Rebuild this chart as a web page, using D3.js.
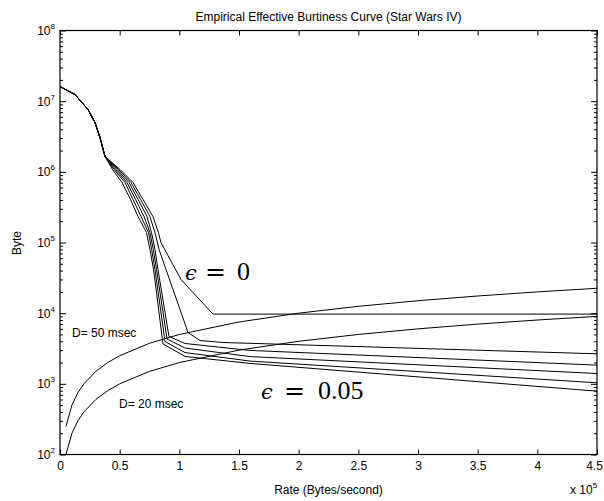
<!DOCTYPE html>
<html>
<head>
<meta charset="utf-8">
<script src="https://cdn.jsdelivr.net/npm/d3@7"></script>
<style>
  html, body { margin: 0; padding: 0; background: #fff; }
  svg { display: block; }
</style>
</head>
<body>
<svg id="chart" width="604" height="501"></svg>
<script>
// ---------------- data (rate in Bytes/second, buffer in Bytes) ----------------
const headRate = [0, 12600, 23500, 29300, 33500, 37700];
const headByte = [1.61e7, 1.24e7, 7.6e6, 5.0e6, 3.06e6, 1.65e6];

// epsilon = 0
const eps0Rate = [50300, 61200, 69600, 77900, 82500, 84600, 101400, 110600, 128200, 450000];
const eps0Byte = [1.08e6, 7.06e5, 4.06e5, 2.33e5, 1.38e5, 1.0e5, 2.99e4, 2.03e4, 9700, 9700];
// intermediate epsilon curves
const eps1Rate = [49000, 59500, 67500, 75400, 79600, 83000, 107300, 117300, 136600, 450000];
const eps1Byte = [1.08e6, 7.06e5, 4.06e5, 2.33e5, 1.38e5, 7.96e4, 5320, 4100, 3846, 2660];
const eps2Rate = [47800, 57800, 65400, 72900, 76700, 79600, 82100, 91300, 104800, 159200, 450000];
const eps2Byte = [1.08e6, 7.06e5, 4.06e5, 2.33e5, 1.38e5, 7.96e4, 4.15e4, 4680, 3720, 2970, 1840];
const eps3Rate = [46500, 56100, 63300, 70400, 75400, 78200, 80900, 89700, 104800, 159200, 450000];
const eps3Byte = [1.08e6, 7.06e5, 4.06e5, 2.33e5, 1.38e5, 7.96e4, 4.15e4, 4310, 3210, 2430, 1400];
const eps4Rate = [45300, 54500, 61200, 67900, 74200, 76800, 79600, 88000, 104800, 159200, 450000];
const eps4Byte = [1.08e6, 7.06e5, 4.06e5, 2.33e5, 1.38e5, 7.96e4, 4.15e4, 3970, 2770, 2100, 1035];
// epsilon = 0.05
const eps5Rate = [44000, 52000, 59100, 65400, 72500, 75400, 78400, 86300, 104800, 159200, 450000];
const eps5Byte = [1.08e6, 7.06e5, 4.06e5, 2.33e5, 1.38e5, 7.96e4, 4.15e4, 3660, 2440, 1945, 787];

// delay-bound lines
const delayRate = [5000, 10000, 15000, 20000, 30000, 40000, 50000, 75000, 100000, 150000, 200000, 250000, 300000, 350000, 400000, 450000];
const d50Byte   = [250, 500, 750, 1000, 1500, 2000, 2500, 3750, 5000, 7500, 10000, 12500, 15000, 17500, 20000, 22500];
const d20Byte   = [100, 200, 300, 400, 600, 800, 1000, 1500, 2000, 3000, 4000, 5000, 6000, 7000, 8000, 9000];

// axes ticks
const xTickValues = [0, 50000, 100000, 150000, 200000, 250000, 300000, 350000, 400000, 450000];
const xTickLabels = ["0", "0.5", "1", "1.5", "2", "2.5", "3", "3.5", "4", "4.5"];
const yTickValues = [1e2, 1e3, 1e4, 1e5, 1e6, 1e7, 1e8];
const yTickExps   = ["2", "3", "4", "5", "6", "7", "8"];

const titleText = "Empirical Effective Burtiness Curve (Star Wars IV)";
const xLabelText = "Rate (Bytes/second)";
const yLabelText = "Byte";

// ---------------- layout ----------------
const SANS = "'Liberation Sans', Arial, Helvetica, sans-serif";
const L = 60, R = 597, T = 30.5, B = 454.5;
const svg = d3.select("#chart");
const x = d3.scaleLinear().domain([0, 450000]).range([L, R]);
const y = d3.scaleLog().domain([1e2, 1e8]).range([B, T]);

const minorY = [];
for (let e = 2; e < 8; e++) for (let m = 2; m <= 9; m++) minorY.push(m * Math.pow(10, e));

// curves
const zip = (rs, bs) => rs.map((r, i) => [r, bs[i]]);
const head = zip(headRate, headByte);
const series = [
  head.concat(zip(eps0Rate, eps0Byte)),
  head.concat(zip(eps1Rate, eps1Byte)),
  head.concat(zip(eps2Rate, eps2Byte)),
  head.concat(zip(eps3Rate, eps3Byte)),
  head.concat(zip(eps4Rate, eps4Byte)),
  head.concat(zip(eps5Rate, eps5Byte)),
  zip(delayRate, d50Byte),
  zip(delayRate, d20Byte)
];
const line = d3.line().x(d => x(d[0])).y(d => y(d[1]));

const plot = svg.append("g");
plot.selectAll("path.curve").data(series).enter().append("path")
  .attr("class", "curve")
  .attr("d", line)
  .attr("fill", "none")
  .attr("stroke", "#000")
  .attr("stroke-width", 1);

// axes
function styleAxis(g) {
  g.select(".domain").remove();
  g.selectAll("line").attr("stroke", "#000").attr("stroke-width", 1);
  g.selectAll("text").style("font-size", "12px").style("fill", "#000")
    .style("font-family", SANS);
}

const xAxis = svg.append("g").attr("transform", `translate(0,${B})`)
  .call(d3.axisBottom(x).tickValues(xTickValues).tickSize(-5).tickPadding(7)
    .tickFormat((d, i) => xTickLabels[i]));
styleAxis(xAxis);
xAxis.selectAll(".tick text").filter((d, i) => i === xTickValues.length - 1).attr("dx", -3);

svg.append("g").attr("transform", `translate(0,${T})`)
  .call(d3.axisTop(x).tickValues(xTickValues).tickSize(-5).tickFormat(""))
  .call(styleAxis);

const yAxis = svg.append("g").attr("transform", `translate(${L},0)`)
  .call(d3.axisLeft(y).tickValues(yTickValues).tickSize(-6).tickPadding(5).tickFormat(""));
styleAxis(yAxis);
yAxis.selectAll(".tick text").each(function (d, i) {
  const t = d3.select(this);
  t.text(null);
  t.append("tspan").text("10");
  t.append("tspan").style("font-size", "8px").attr("dy", "-0.75em").text(yTickExps[i]);
});

svg.append("g").attr("transform", `translate(${L},0)`)
  .call(d3.axisLeft(y).tickValues(minorY).tickSize(-3).tickFormat(""))
  .call(styleAxis);
svg.append("g").attr("transform", `translate(${R},0)`)
  .call(d3.axisRight(y).tickValues(yTickValues).tickSize(-6).tickFormat(""))
  .call(styleAxis);
svg.append("g").attr("transform", `translate(${R},0)`)
  .call(d3.axisRight(y).tickValues(minorY).tickSize(-3).tickFormat(""))
  .call(styleAxis);

// box
svg.append("rect").attr("x", L).attr("y", T).attr("width", R - L).attr("height", B - T)
  .attr("fill", "none").attr("stroke", "#000").attr("stroke-width", 1.2);

function sansText(xp, yp, txt) {
  return svg.append("text").attr("x", xp).attr("y", yp)
    .style("font-family", SANS).style("font-size", "12px").style("fill", "#000").text(txt);
}
// titles
sansText((L + R) / 2, 21, titleText).attr("text-anchor", "middle");
sansText((L + R) / 2, 494, xLabelText).attr("text-anchor", "middle");
sansText(0, 0, yLabelText).attr("text-anchor", "middle")
  .attr("transform", "translate(21,243) rotate(-90)");
const xm = sansText(570, 494, null);
xm.append("tspan").text("x 10");
xm.append("tspan").style("font-size", "8px").attr("dy", "-0.75em").text("5");

// annotations
sansText(72, 337, "D= 50 msec");
sansText(119, 408, "D= 20 msec");

function epsLabel(x0, yb, eqX, numX, num) {
  svg.append("text").attr("x", x0).attr("y", yb)
    .style("font-size", "21px").style("font-family", "'DejaVu Serif', serif")
    .style("font-style", "italic").text("\u03F5");
  svg.append("text").attr("x", eqX).attr("y", yb)
    .style("font-size", "25px").style("font-family", "'DejaVu Serif', serif").text("=");
  svg.append("text").attr("x", numX).attr("y", yb)
    .style("font-size", "26px").style("font-family", "'Liberation Serif', 'Times New Roman', serif").text(num);
}
epsLabel(185, 280, 205, 237, "0");
epsLabel(261, 399, 284, 318, "0.05");
</script>
</body>
</html>
